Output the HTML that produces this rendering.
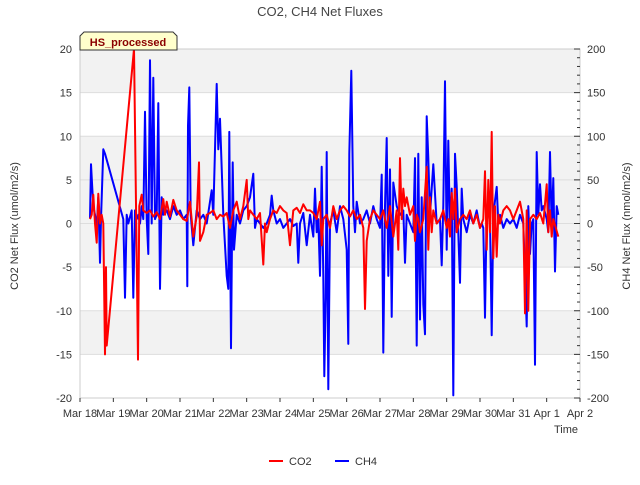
<!DOCTYPE html>
<html><head><meta charset="utf-8"><style>
body{margin:0;background:#fff;}
svg text{font-family:"Liberation Sans","DejaVu Sans",sans-serif;}
</style></head><body>
<svg width="640" height="480" xmlns="http://www.w3.org/2000/svg">
<g id="bands"></g>
<g id="grid"></g>
<rect x="80" y="49" width="500" height="349" fill="none" stroke="#cccccc"/>
<g id="axes"></g>
<polyline id="ch4" fill="none" stroke="#0000ff" stroke-width="2" stroke-linejoin="round"/>
<polyline id="co2" fill="none" stroke="#ff0000" stroke-width="2" stroke-linejoin="round"/>
<text x="320" y="16" text-anchor="middle" font-size="13" fill="#444">CO2, CH4 Net Fluxes</text>
<text transform="translate(18,226) rotate(-90)" text-anchor="middle" font-size="11" fill="#333">CO2 Net Flux (umol/m2/s)</text>
<text transform="translate(630,226) rotate(-90)" text-anchor="middle" font-size="11" fill="#333">CH4 Net Flux (nmol/m2/s)</text>
<text x="578" y="433" text-anchor="end" font-size="11" fill="#333">Time</text>
<g>
<path d="M84,32 L173,32 L177,36 L177,50 L80,50 L80,36 Z" fill="#ffffcc" stroke="#333" stroke-width="1"/>
<text x="128" y="46" text-anchor="middle" font-size="11" font-weight="bold" fill="#8b0000">HS_processed</text>
</g>
<g>
<line x1="269" y1="461" x2="283" y2="461" stroke="#ff0000" stroke-width="2"/>
<text x="289" y="465" font-size="11" fill="#333">CO2</text>
<line x1="335" y1="461" x2="349" y2="461" stroke="#0000ff" stroke-width="2"/>
<text x="355" y="465" font-size="11" fill="#333">CH4</text>
</g>
</svg>
<script>
const xTickLabels=["Mar 18","Mar 19","Mar 20","Mar 21","Mar 22","Mar 23","Mar 24","Mar 25","Mar 26","Mar 27","Mar 28","Mar 29","Mar 30","Mar 31","Apr 1","Apr 2"];
const leftTicks=[20,15,10,5,0,-5,-10,-15,-20];
const rightTicks=[200,150,100,50,0,-50,-100,-150,-200];
const ch4Days=[0.30,0.33,0.37,0.40,0.45,0.50,0.55,0.60,0.63,0.70,0.75,1.30,1.35,1.40,1.45,1.55,1.60,1.65,1.70,1.75,1.80,1.85,1.90,1.95,2.0,2.05,2.10,2.15,2.20,2.25,2.30,2.35,2.40,2.45,2.50,2.6,2.7,2.8,2.9,3.0,3.1,3.2,3.22,3.24,3.28,3.32,3.4,3.5,3.6,3.7,3.8,3.9,3.95,4.0,4.05,4.10,4.15,4.2,4.3,4.4,4.45,4.48,4.53,4.58,4.62,4.7,4.8,4.9,5.0,5.1,5.2,5.25,5.3,5.4,5.5,5.6,5.7,5.75,5.8,5.9,6.0,6.1,6.2,6.3,6.4,6.5,6.55,6.6,6.7,6.8,6.9,7.0,7.05,7.1,7.15,7.2,7.25,7.3,7.33,7.37,7.4,7.45,7.5,7.6,7.7,7.8,7.9,8.0,8.05,8.08,8.14,8.2,8.25,8.3,8.4,8.5,8.6,8.7,8.8,8.9,9.0,9.05,9.1,9.15,9.2,9.25,9.3,9.35,9.4,9.5,9.6,9.7,9.75,9.8,9.9,10.0,10.05,10.1,10.15,10.2,10.25,10.3,10.35,10.4,10.45,10.5,10.6,10.7,10.8,10.85,10.9,10.95,11.0,11.05,11.1,11.15,11.2,11.25,11.3,11.4,11.45,11.5,11.6,11.7,11.8,11.9,12.0,12.05,12.1,12.15,12.2,12.3,12.35,12.4,12.5,12.55,12.6,12.7,12.8,12.9,13.0,13.1,13.2,13.3,13.4,13.45,13.5,13.55,13.6,13.65,13.7,13.75,13.8,13.85,13.9,14.0,14.05,14.1,14.15,14.2,14.25,14.3,14.35];
const ch4Values=[6,68,40,20,10,-5,30,-45,5,85,80,5,-85,10,0,15,-85,15,5,10,0,20,5,128,5,-35,187,0,167,5,10,138,-75,30,10,15,5,20,10,15,5,10,-72,112,156,10,-25,15,5,10,0,25,38,10,85,160,85,120,10,-60,-75,105,-143,70,-30,10,0,15,20,30,57,-5,5,0,-5,0,10,32,15,0,5,-5,0,5,-3,0,-45,0,12,-25,10,-15,40,-10,5,-60,65,-60,-175,-85,82,-190,0,15,-10,20,5,-30,-138,80,175,20,-10,25,0,5,15,0,20,5,-5,56,-148,20,98,-60,62,-107,47,20,10,15,-45,10,0,-10,75,-140,80,-110,30,-93,-127,123,75,10,68,0,5,-48,20,163,-30,95,-10,40,-197,80,43,-68,40,5,-10,10,0,15,-5,0,-5,-108,15,5,-128,10,42,0,10,-5,5,0,5,-5,10,0,-118,20,-35,0,5,-162,82,10,45,15,20,5,-10,82,-5,52,-55,20,10];
const co2Days=[0.30,0.35,0.40,0.45,0.50,0.55,0.60,0.65,0.70,0.75,0.78,0.80,1.62,1.74,1.78,1.85,1.9,2.0,2.1,2.2,2.3,2.4,2.5,2.55,2.6,2.7,2.8,2.9,3.0,3.1,3.2,3.3,3.4,3.5,3.57,3.6,3.7,3.8,3.9,4.0,4.1,4.2,4.3,4.4,4.5,4.6,4.7,4.8,4.9,5.0,5.05,5.1,5.2,5.3,5.4,5.5,5.55,5.6,5.7,5.8,5.9,6.0,6.1,6.2,6.3,6.4,6.5,6.6,6.7,6.8,6.9,7.0,7.1,7.2,7.25,7.3,7.4,7.5,7.6,7.7,7.8,7.9,8.0,8.1,8.2,8.3,8.4,8.5,8.55,8.6,8.7,8.8,8.9,9.0,9.1,9.2,9.3,9.4,9.5,9.55,9.6,9.65,9.7,9.75,9.8,9.9,10.0,10.05,10.1,10.15,10.2,10.3,10.4,10.45,10.5,10.55,10.6,10.7,10.8,10.9,11.0,11.05,11.1,11.15,11.2,11.25,11.3,11.4,11.5,11.6,11.7,11.8,11.9,12.0,12.1,12.15,12.2,12.25,12.3,12.35,12.4,12.45,12.5,12.55,12.6,12.7,12.8,12.9,13.0,13.1,13.2,13.3,13.35,13.4,13.45,13.5,13.6,13.7,13.8,13.9,14.0,14.05,14.1,14.15,14.2,14.35];
const co2Values=[0.5,1,3.3,0,-2.2,3.4,0,1,0,-15,-5,-14,20,-15.6,2,3.3,1.5,1.2,1.5,0.8,1.3,0.5,2.8,1,2.5,0.8,2.7,1.5,1,0.5,0.3,2.5,-1.5,0.8,7,-2,-1,1,1.2,1.5,0.5,1,0.8,1.2,-0.5,1.5,2.5,0.5,2,5,0.5,1.5,1,0.5,1.2,-4.7,0,-1,0.5,1.5,1.2,2,1.5,1.2,-2.5,1.5,1.8,1.2,2.2,1.5,1.5,1.2,0.5,2.5,-2.5,0.5,1,-0.5,2,0.5,1.5,2,1.5,0.8,1.5,0.5,1,-0.5,-9.8,-2,0.5,1.5,1,0.5,1.5,-0.5,2,-1.5,1.5,-3,7.5,0.5,4,2,3,1,2,-2,1,0.5,-1,0.5,6.5,-3,3,-1,1.5,0,0.5,1.5,-0.5,0.5,-1.5,3.5,0.5,4,-1,0.5,1,0.5,1.5,0,1,-0.5,0.5,6,-3,5,-1,10.5,-4,2,-3.8,1,0,1.5,2,1.5,0.5,1.5,2.5,0.5,-10.3,1.5,-10,0.5,1,0.5,1.2,0,4.5,-1,1.5,-1.5,0.5,-1.5];

const X0=80,X1=580,YT=49,YB=398;
const xs=d=>X0+d*(X1-X0)/15;
const yl=v=>YT+(20-v)*(YB-YT)/40;
const yr=v=>YT+(200-v)*(YB-YT)/400;
const NS="http://www.w3.org/2000/svg";
function mk(tag,attrs,parent,text){const e=document.createElementNS(NS,tag);for(const k in attrs)e.setAttribute(k,attrs[k]);if(text!==undefined)e.textContent=text;document.getElementById(parent).appendChild(e);return e;}
[[20,15],[10,-5],[-10,-15]].forEach(b=>{
 const r=mk('rect',{x:X0,y:yl(b[0]),width:X1-X0,height:yl(b[1])-yl(b[0]),fill:'#f2f2f2'},'bands');
 
 
});
leftTicks.forEach(v=>{
 const l=mk('line',{x1:X0,x2:X1,y1:yl(v),y2:yl(v),stroke:'#dddddd'},'grid');
 
 
 const t=mk('text',{x:72,y:yl(v)+4,'text-anchor':'end','font-size':11,fill:'#333'},'axes',v);
 
 
});
rightTicks.forEach(v=>{
 const t=mk('text',{x:587,y:yr(v)+4,'font-size':11,fill:'#333'},'axes',v);
 
 
});
for(let v=-200;v<=200;v+=10){
 const major=v%50===0;
 const l=mk('line',{x1:major?574:577,x2:580,y1:yr(v),y2:yr(v),stroke:'#333'},'axes');
 
 
}
xTickLabels.forEach((s,i)=>{
 const l=mk('line',{x1:xs(i),x2:xs(i),y1:YB,y2:YB+4,stroke:'#333'},'axes');
 
 
 const t=mk('text',{x:xs(i),y:417,'text-anchor':'middle','font-size':11,fill:'#333'},'axes',s);
 
 
});
document.getElementById('ch4').setAttribute('points',ch4Days.map((d,i)=>xs(d).toFixed(1)+','+yr(ch4Values[i]).toFixed(1)).join(' '));
document.getElementById('co2').setAttribute('points',co2Days.map((d,i)=>xs(d).toFixed(1)+','+yl(co2Values[i]).toFixed(1)).join(' '));
</script>
</body></html>
